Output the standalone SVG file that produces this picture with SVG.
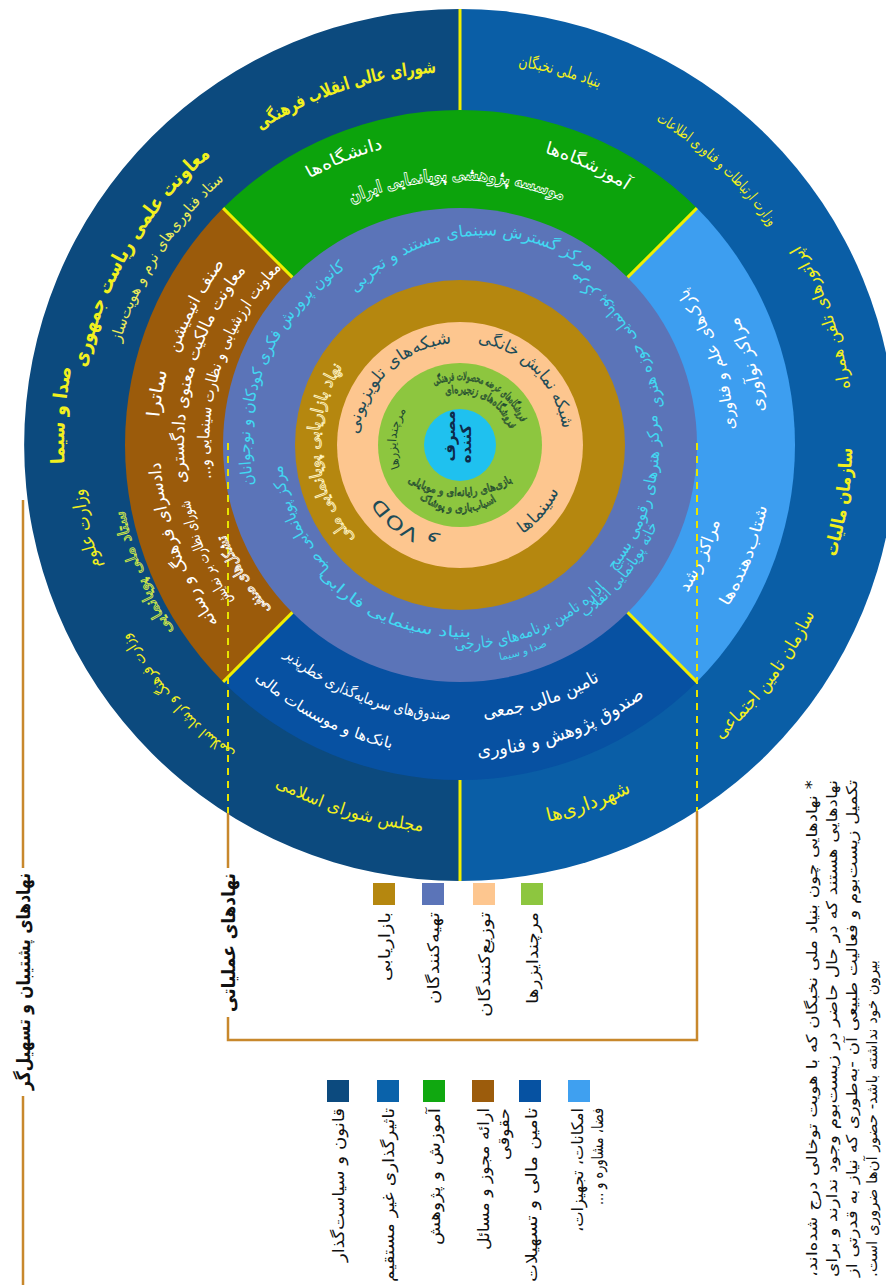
<svg xmlns="http://www.w3.org/2000/svg" width="886" height="1285" viewBox="0 0 886 1285">
<style>
text{font-family:"DejaVu Sans",sans-serif;text-anchor:middle}
.y{fill:#f2f01e}
.yb{fill:#f2f01e;font-weight:bold}
.yl{fill:#ecec5a}
.w{fill:#fff}
.c{fill:#42d8f2}
.d{fill:#1e4c58}
.g{fill:#1f4a30}
.ow{fill:none;stroke:#fff;stroke-width:0.9}
.og{fill:none;stroke:#1f4a30;stroke-width:0.7}
.oc{fill:none;stroke:#fff4c4;stroke-width:0.9}
.oy{fill:none;stroke:#cde84a;stroke-width:0.9}
.div{stroke:#f0ee00;stroke-width:3}
.dash{stroke:#e8e400;stroke-width:2;stroke-dasharray:7 6;fill:none}
.br{stroke:#c8882c;stroke-width:2.5;fill:none}
.lg{fill:#111;font-size:16px;dominant-baseline:central;text-anchor:end}
.bl{fill:#111;font-size:19px;font-weight:bold;dominant-baseline:central;text-anchor:end}
.fn{fill:#111;font-size:15px;dominant-baseline:central;text-anchor:end}
</style>
<defs>
<path id="o373" d="M92.67,380.23 A373,373 0 0 1 827.33,380.23"/>
<path id="o382" d="M83.80,378.67 A382,382 0 0 1 836.20,378.67"/>
<path id="o355" d="M110.39,383.35 A355,355 0 0 1 809.61,383.35"/>
<path id="o396" d="M70.02,376.23 A396,396 0 0 1 849.98,376.23"/>
<path id="o379" d="M86.76,379.19 A379,379 0 0 1 833.24,379.19"/>
<path id="o342" d="M123.19,385.61 A342,342 0 0 1 796.81,385.61"/>
<path id="o381" d="M84.79,378.84 A381,381 0 0 1 835.21,378.84"/>
<path id="o383" d="M82.82,378.49 A383,383 0 0 1 837.18,378.49"/>
<path id="o306" d="M158.65,391.86 A306,306 0 0 1 761.35,391.86"/>
<path id="o304" d="M160.62,392.21 A304,304 0 0 1 759.38,392.21"/>
<path id="o265" d="M199.03,398.98 A265,265 0 0 1 720.97,398.98"/>
<path id="o297" d="M167.51,393.43 A297,297 0 0 1 752.49,393.43"/>
<path id="o302" d="M162.59,392.56 A302,302 0 0 1 757.41,392.56"/>
<path id="o300" d="M164.56,392.90 A300,300 0 0 1 755.44,392.90"/>
<path id="o276" d="M188.19,397.07 A276,276 0 0 1 731.81,397.07"/>
<path id="o251" d="M212.81,401.41 A251,251 0 0 1 707.19,401.41"/>
<path id="t33" d="M315.7,376.8 A171,171 0 0 1 652.5,376.8"/>
<path id="o210" d="M253.19,408.53 A210,210 0 0 1 666.81,408.53"/>
<path id="o179" d="M283.72,413.92 A179,179 0 0 1 636.28,413.92"/>
<path id="o141" d="M321.14,420.52 A141,141 0 0 1 598.86,420.52"/>
<path id="o102" d="M359.55,427.29 A102,102 0 0 1 560.45,427.29"/>
<path id="o104" d="M357.58,426.94 A104,104 0 0 1 562.42,426.94"/>
<path id="o95" d="M366.44,428.50 A95,95 0 0 1 553.56,428.50"/>
<path id="o64" d="M396.97,433.89 A64,64 0 0 1 523.03,433.89"/>
<path id="o65" d="M395.99,433.71 A65,65 0 0 1 524.01,433.71"/>
<path id="o52" d="M408.79,435.97 A52,52 0 0 1 511.21,435.97"/>
<path id="i388" d="M77.89,512.38 A388,388 0 0 0 842.11,512.38"/>
<path id="i394" d="M71.99,513.42 A394,394 0 0 0 848.01,513.42"/>
<path id="i392" d="M73.95,513.07 A392,392 0 0 0 846.05,513.07"/>
<path id="i393" d="M72.97,513.24 A393,393 0 0 0 847.03,513.24"/>
<path id="i387" d="M78.88,512.20 A387,387 0 0 0 841.12,512.20"/>
<path id="i275" d="M189.18,492.75 A275,275 0 0 0 730.82,492.75"/>
<path id="i306" d="M158.65,498.14 A306,306 0 0 0 761.35,498.14"/>
<path id="i271" d="M193.12,492.06 A271,271 0 0 0 726.88,492.06"/>
<path id="i313" d="M151.75,499.35 A313,313 0 0 0 768.25,499.35"/>
<path id="i274" d="M190.16,492.58 A274,274 0 0 0 729.84,492.58"/>
<path id="i312" d="M152.74,499.18 A312,312 0 0 0 767.26,499.18"/>
<path id="i311" d="M153.72,499.01 A311,311 0 0 0 766.28,499.01"/>
<path id="i206" d="M257.13,480.77 A206,206 0 0 0 662.87,480.77"/>
<path id="i192" d="M270.92,478.34 A192,192 0 0 0 649.08,478.34"/>
<path id="i204" d="M259.10,480.42 A204,204 0 0 0 660.90,480.42"/>
<path id="i219" d="M244.33,483.03 A219,219 0 0 0 675.67,483.03"/>
<path id="i199" d="M264.02,479.56 A199,199 0 0 0 655.98,479.56"/>
<path id="i213" d="M250.24,481.99 A213,213 0 0 0 669.76,481.99"/>
<path id="i109" d="M352.66,463.93 A109,109 0 0 0 567.34,463.93"/>
<path id="i67" d="M394.02,456.63 A67,67 0 0 0 525.98,456.63"/>
<path id="gA" d="M370.8,444.5 A103,103 0 0 0 549.2,444.5"/>
</defs>

<g id="outer-ring">
<path d="M460,9 A436,436 0 0 0 460,881 Z" fill="#0c4a7e"/>
<path d="M460,9 A436,436 0 0 1 460,881 Z" fill="#0a5ea6"/>
<line class="div" x1="460" y1="9" x2="460" y2="112"/>
<line class="div" x1="460" y1="778" x2="460" y2="881"/>
</g>

<g id="sector-ring">
<path d="M460,445 L223.12,208.12 A335,335 0 0 1 696.88,208.12 Z" fill="#0ca30c"/>
<path d="M460,445 L696.88,208.12 A335,335 0 0 1 696.88,681.88 Z" fill="#3d9ef0"/>
<path d="M460,445 L696.88,681.88 A335,335 0 0 1 223.12,681.88 Z" fill="#0751a2"/>
<path d="M460,445 L223.12,681.88 A335,335 0 0 1 223.12,208.12 Z" fill="#9b5b0b"/>
</g>

<g id="inner-rings">
<circle cx="460" cy="445" r="237" fill="#5b74b8"/>
<circle cx="460" cy="445" r="165" fill="#b5870f"/>
<circle cx="460" cy="445" r="123" fill="#fdc68f"/>
<circle cx="460" cy="445" r="82" fill="#8dc63f"/>
<circle cx="460" cy="445" r="36" fill="#1fc1ef"/>
</g>

<g id="dividers">
<line class="div" x1="223.12" y1="208.12" x2="292.42" y2="277.42"/>
<line class="div" x1="696.88" y1="208.12" x2="627.58" y2="277.42"/>
<line class="div" x1="696.88" y1="681.88" x2="627.58" y2="612.42"/>
<line class="div" x1="223.12" y1="681.88" x2="292.42" y2="612.42"/>
</g>

<g id="connectors">
<path class="dash" d="M228,443 V813 M697,443 V811"/>
<path class="br" d="M23,500 V868 M23,1096 V1285"/>
<path class="br" d="M228,813 V868 M228,1017 V1040 H697 V811"/>
</g>

<g id="outer-texts">
<text class="yb" font-size="18" transform="rotate(-18 460 445)"><textPath href="#o373" startOffset="50%" textLength="187" lengthAdjust="spacingAndGlyphs">شورای عالی انقلاب فرهنگی</textPath></text>
<text class="yb" font-size="20" transform="rotate(-59.5 460 445)"><textPath href="#o382" startOffset="50%" textLength="251" lengthAdjust="spacingAndGlyphs">معاونت علمی ریاست جمهوری</textPath></text>
<text class="yl" font-size="15" transform="rotate(-57.4 460 445)"><textPath href="#o355" startOffset="50%" textLength="196" lengthAdjust="spacingAndGlyphs">ستاد فناوری‌های نرم و هویت‌ساز</textPath></text>
<text class="yb" font-size="19" transform="rotate(-85.7 460 445)"><textPath href="#o396" startOffset="50%" textLength="97" lengthAdjust="spacingAndGlyphs">صدا و سیما</textPath></text>
<text class="y" font-size="18" transform="rotate(-102.6 460 445)"><textPath href="#o379" startOffset="50%" textLength="80" lengthAdjust="spacingAndGlyphs">وزارت علوم</textPath></text>
<text class="oy" font-size="16" transform="rotate(-112 460 445)"><textPath href="#o342" startOffset="50%" textLength="131" lengthAdjust="spacingAndGlyphs">ستاد ملی پویانمایی</textPath></text>
<text class="y" font-size="15" transform="rotate(-131.7 460 445)"><textPath href="#o381" startOffset="50%" textLength="162" lengthAdjust="spacingAndGlyphs">وزارت فرهنگ و ارشاد اسلامی</textPath></text>
<text class="y" font-size="17" transform="rotate(17 460 445)"><textPath href="#i388" startOffset="50%" textLength="156" lengthAdjust="spacingAndGlyphs">مجلس شورای اسلامی</textPath></text>
<text class="y" font-size="16" transform="rotate(15 460 445)"><textPath href="#o383" startOffset="50%" textLength="84" lengthAdjust="spacingAndGlyphs">بنیاد ملی نخبگان</textPath></text>
<text class="y" font-size="15" transform="rotate(43 460 445)"><textPath href="#o379" startOffset="50%" textLength="157" lengthAdjust="spacingAndGlyphs">وزارت ارتباطات و فناوری اطلاعات</textPath></text>
<text class="y" font-size="17" transform="rotate(-109.4 460 445)"><textPath href="#i394" startOffset="50%" textLength="153" lengthAdjust="spacingAndGlyphs">اپراتورهای تلفن همراه</textPath></text>
<text class="yb" font-size="18" transform="rotate(-81.5 460 445)"><textPath href="#i392" startOffset="50%" textLength="111" lengthAdjust="spacingAndGlyphs">سازمان مالیات</textPath></text>
<text class="y" font-size="18" transform="rotate(-53 460 445)"><textPath href="#i393" startOffset="50%" textLength="158" lengthAdjust="spacingAndGlyphs">سازمان تامین اجتماعی</textPath></text>
<text class="y" font-size="19" transform="rotate(-19.7 460 445)"><textPath href="#i387" startOffset="50%" textLength="89" lengthAdjust="spacingAndGlyphs">شهرداری‌ها</textPath></text>
</g>

<g id="sector-texts">
<text class="w" font-size="17" transform="rotate(-22 460 445)"><textPath href="#o306" startOffset="50%" textLength="80" lengthAdjust="spacingAndGlyphs">دانشگاه‌ها</textPath></text>
<text class="w" font-size="17" transform="rotate(24.6 460 445)"><textPath href="#o304" startOffset="50%" textLength="90" lengthAdjust="spacingAndGlyphs">آموزشگاه‌ها</textPath></text>
<text class="ow" font-size="17" font-weight="bold" transform="rotate(-0.7 460 445)"><textPath href="#o265" startOffset="50%" textLength="217" lengthAdjust="spacingAndGlyphs">موسسه پژوهشی پویانمایی ایران</textPath></text>
<text class="w" font-size="16" transform="rotate(-109 460 445)"><textPath href="#i275" startOffset="50%" textLength="151" lengthAdjust="spacingAndGlyphs">پارک‌های علم و فناوری</textPath></text>
<text class="w" font-size="17" transform="rotate(-105.6 460 445)"><textPath href="#i306" startOffset="50%" textLength="99" lengthAdjust="spacingAndGlyphs">مراکز نوآوری</textPath></text>
<text class="w" font-size="17" transform="rotate(-65.3 460 445)"><textPath href="#i271" startOffset="50%" textLength="79" lengthAdjust="spacingAndGlyphs">مراکز رشد</textPath></text>
<text class="w" font-size="16" transform="rotate(-68.8 460 445)"><textPath href="#i313" startOffset="50%" textLength="108" lengthAdjust="spacingAndGlyphs">شتاب‌دهنده‌ها</textPath></text>
<text class="w" font-size="18" transform="rotate(-17.8 460 445)"><textPath href="#i274" startOffset="50%" textLength="123" lengthAdjust="spacingAndGlyphs">تامین مالی جمعی</textPath></text>
<text class="w" font-size="18" transform="rotate(-19.8 460 445)"><textPath href="#i312" startOffset="50%" textLength="180" lengthAdjust="spacingAndGlyphs">صندوق پژوهش و فناوری</textPath></text>
<text class="w" font-size="15" transform="rotate(21 460 445)"><textPath href="#i275" startOffset="50%" textLength="182" lengthAdjust="spacingAndGlyphs">صندوق‌های سرمایه‌گذاری خطرپذیر</textPath></text>
<text class="w" font-size="15" transform="rotate(27 460 445)"><textPath href="#i311" startOffset="50%" textLength="155" lengthAdjust="spacingAndGlyphs">بانک‌ها و موسسات مالی</textPath></text>
<text class="w" font-size="17" transform="rotate(-62.2 460 445)"><textPath href="#o297" startOffset="50%" textLength="102" lengthAdjust="spacingAndGlyphs">صنف انیمیشن</textPath></text>
<text class="w" font-size="18" transform="rotate(-80.3 460 445)"><textPath href="#o302" startOffset="50%" textLength="47" lengthAdjust="spacingAndGlyphs">ساترا</textPath></text>
<text class="w" font-size="17" transform="rotate(-109.8 460 445)"><textPath href="#o300" startOffset="50%" textLength="173" lengthAdjust="spacingAndGlyphs">دادسرای فرهنگ و رسانه</textPath></text>
<text class="w" font-size="17" transform="rotate(-74.3 460 445)"><textPath href="#o276" startOffset="50%" textLength="227" lengthAdjust="spacingAndGlyphs">معاونت مالکیت معنوی دادگستری</textPath></text>
<text class="w" font-size="16" transform="rotate(-71.5 460 445)"><textPath href="#o251" startOffset="50%" textLength="230" lengthAdjust="spacingAndGlyphs">معاونت ارزشیابی و نظارت سینمایی و...&#x200F;</textPath></text>
<text class="w" font-size="15" transform="rotate(-113 460 445)"><textPath href="#o276" startOffset="50%" textLength="111" lengthAdjust="spacingAndGlyphs">شورای نظارت بر نمایش</textPath></text>
<text class="ow" font-size="15" transform="rotate(-121 460 445)"><textPath href="#o251" startOffset="50%" textLength="88" lengthAdjust="spacingAndGlyphs">تشکل‌های صنفی</textPath></text>
</g>

<g id="producer-texts">
<text class="c" font-size="16" transform="rotate(-5.2 484.1 406.5)"><textPath href="#t33" startOffset="50%" textLength="259" lengthAdjust="spacingAndGlyphs">مرکز گسترش سینمای مستند و تجربی</textPath></text>
<text class="c" font-size="16" transform="rotate(-123.5 460 445)"><textPath href="#i206" startOffset="50%" textLength="165" lengthAdjust="spacingAndGlyphs">مرکز پویانمایی حوزه هنری</textPath></text>
<text class="c" font-size="16" transform="rotate(-67 460 445)"><textPath href="#o210" startOffset="50%" textLength="249" lengthAdjust="spacingAndGlyphs">کانون پرورش فکری کودکان و نوجوانان</textPath></text>
<text class="c" font-size="16" transform="rotate(-115 460 445)"><textPath href="#o179" startOffset="50%" textLength="116" lengthAdjust="spacingAndGlyphs">مرکز پویانمایی صبا</textPath></text>
<text class="c" font-size="15" transform="rotate(22 460 445)"><textPath href="#i192" startOffset="50%" textLength="170" lengthAdjust="spacingAndGlyphs">بنیاد سینمایی فارابی</textPath></text>
<text class="c" font-size="16" transform="rotate(-22 460 445)"><textPath href="#i204" startOffset="50%" textLength="167" lengthAdjust="spacingAndGlyphs">اداره تامین برنامه‌های خارجی</textPath></text>
<text class="c" font-size="10" transform="rotate(-17 460 445)"><textPath href="#i219" startOffset="50%" textLength="50" lengthAdjust="spacingAndGlyphs">صدا و سیما</textPath></text>
<text class="c" font-size="16" transform="rotate(-74.8 460 445)"><textPath href="#i199" startOffset="50%" textLength="167" lengthAdjust="spacingAndGlyphs">مرکز هنرهای رقومی بسیج</textPath></text>
<text class="c" font-size="15" transform="rotate(-52 460 445)"><textPath href="#i213" startOffset="50%" textLength="119" lengthAdjust="spacingAndGlyphs">خانه پویانمایی انقلاب</textPath></text>
</g>

<g id="marketing-texts">
<text class="oc" font-size="17" transform="rotate(-94 460 445)"><textPath href="#o141" startOffset="50%" textLength="185" lengthAdjust="spacingAndGlyphs">نهاد بازاریابی پویانمایی ملی</textPath></text>
</g>

<g id="distributor-texts">
<text class="d" font-size="17" transform="rotate(-44.4 460 445)"><textPath href="#o102" startOffset="50%" textLength="141" lengthAdjust="spacingAndGlyphs">شبکه‌های تلویزیونی</textPath></text>
<text class="d" font-size="17" transform="rotate(45.4 460 445)"><textPath href="#o104" startOffset="50%" textLength="129" lengthAdjust="spacingAndGlyphs">شبکه نمایش خانگی</textPath></text>
<text class="d" font-size="18" transform="rotate(-145 460 445)"><textPath href="#o95" startOffset="50%" textLength="73" lengthAdjust="spacingAndGlyphs">و VOD</textPath></text>
<text class="d" font-size="17" transform="rotate(-50 460 445)"><textPath href="#i109" startOffset="50%" textLength="57" lengthAdjust="spacingAndGlyphs">سینماها</textPath></text>
</g>

<g id="merchandiser-texts">
<text class="g" font-size="12" transform="rotate(-84 460 445)"><textPath href="#o64" startOffset="50%" textLength="60" lengthAdjust="spacingAndGlyphs">مرچندایزرها</textPath></text>
<text class="og" font-size="11" transform="rotate(23 460 445)"><textPath href="#o65" startOffset="50%" textLength="105" lengthAdjust="spacingAndGlyphs">فروشگاه‌های عرضه محصولات فرهنگی</textPath></text>
<text class="og" font-size="11" transform="rotate(28 460 445)"><textPath href="#o52" startOffset="50%" textLength="80" lengthAdjust="spacingAndGlyphs">فروشگاه‌های زنجیره‌ای</textPath></text>
<text class="og" font-size="11"><textPath href="#gA" startOffset="50%" textLength="110" lengthAdjust="spacingAndGlyphs">بازی‌های رایانه‌ای و موبایلی</textPath></text>
<text class="og" font-size="11" transform="rotate(2 460 445)"><textPath href="#i67" startOffset="50%" textLength="82" lengthAdjust="spacingAndGlyphs">اسباب‌بازی و پوشاک</textPath></text>
</g>

<g id="consumer">
<text fill="#0d2a4a" font-size="15" font-weight="bold" dominant-baseline="central" transform="translate(450,436) rotate(-90)">مصرف</text>
<text fill="#0d2a4a" font-size="15" font-weight="bold" dominant-baseline="central" transform="translate(466,444) rotate(-90)">کننده</text>
</g>

<g id="legend-operational">
<rect x="373" y="883" width="22" height="22" fill="#b5870f"/>
<rect x="422" y="883" width="22" height="22" fill="#5b74b8"/>
<rect x="473" y="883" width="22" height="22" fill="#fdc68f"/>
<rect x="521" y="883" width="22" height="22" fill="#8dc63f"/>
<text class="lg" transform="translate(384,912) rotate(-90)" textLength="69" lengthAdjust="spacingAndGlyphs">بازاریابی</text>
<text class="lg" transform="translate(433,912) rotate(-90)" textLength="92" lengthAdjust="spacingAndGlyphs">تهیه‌کنندگان</text>
<text class="lg" transform="translate(484,912) rotate(-90)" textLength="105" lengthAdjust="spacingAndGlyphs">توزیع‌کنندگان</text>
<text class="lg" transform="translate(532,912) rotate(-90)" textLength="92" lengthAdjust="spacingAndGlyphs">مرچندایزرها</text>
</g>

<g id="legend-support">
<rect x="327" y="1080" width="22" height="22" fill="#0c4a7e"/>
<rect x="377" y="1080" width="22" height="22" fill="#0a62aa"/>
<rect x="423" y="1080" width="22" height="22" fill="#10a810"/>
<rect x="472" y="1080" width="22" height="22" fill="#9c5c0c"/>
<rect x="519" y="1080" width="22" height="22" fill="#0652a2"/>
<rect x="568" y="1080" width="22" height="22" fill="#3fa0f0"/>
<text class="lg" transform="translate(338,1108) rotate(-90)" textLength="154" lengthAdjust="spacingAndGlyphs">قانون و سیاست‌گذار</text>
<text class="lg" transform="translate(388,1108) rotate(-90)" textLength="174" lengthAdjust="spacingAndGlyphs">تاثیرگذاری غیر مستقیم</text>
<text class="lg" transform="translate(434,1108) rotate(-90)" textLength="137" lengthAdjust="spacingAndGlyphs">آموزش و پژوهش</text>
<text class="lg" transform="translate(483,1108) rotate(-90)" textLength="142" lengthAdjust="spacingAndGlyphs">ارائه مجوز و مسائل</text>
<text class="lg" transform="translate(503,1108) rotate(-90)" textLength="52" lengthAdjust="spacingAndGlyphs">حقوقی</text>
<text class="lg" transform="translate(531,1108) rotate(-90)" textLength="174" lengthAdjust="spacingAndGlyphs">تامین مالی و تسهیلات</text>
<text class="lg" transform="translate(577,1108) rotate(-90)" textLength="124" lengthAdjust="spacingAndGlyphs">امکانات، تجهیزات،&#x200F;</text>
<text class="lg" transform="translate(597,1108) rotate(-90)" textLength="97" lengthAdjust="spacingAndGlyphs">فضا، مشاوره و ...&#x200F;</text>
</g>

<g id="bracket-labels">
<text class="bl" transform="translate(23,873) rotate(-90)" textLength="217" lengthAdjust="spacingAndGlyphs">نهادهای پشتیبان و تسهیل‌گر</text>
<text class="bl" transform="translate(228,873) rotate(-90)" textLength="139" lengthAdjust="spacingAndGlyphs">نهادهای عملیاتی</text>
</g>

<g id="footnote">
<text class="fn" transform="translate(812,780) rotate(-90)" textLength="497" lengthAdjust="spacingAndGlyphs">&#x200F;* نهادهایی چون بنیاد ملی نخبگان که با هویت توخالی درج شده‌اند،&#x200F;</text>
<text class="fn" transform="translate(832,780) rotate(-90)" textLength="497" lengthAdjust="spacingAndGlyphs">نهادهایی هستند که در حال حاضر در زیست‌بوم وجود ندارند و برای</text>
<text class="fn" transform="translate(852,780) rotate(-90)" textLength="497" lengthAdjust="spacingAndGlyphs">تکمیل زیست‌بوم و فعالیت طبیعی آن -به‌طوری که نیاز به قدرتی از</text>
<text class="fn" style="text-anchor:start" transform="translate(872,1277) rotate(-90)" textLength="317" lengthAdjust="spacingAndGlyphs">بیرون خود نداشته باشد- حضور آن‌ها ضروری است.&#x200F;</text>
</g>
</svg>
